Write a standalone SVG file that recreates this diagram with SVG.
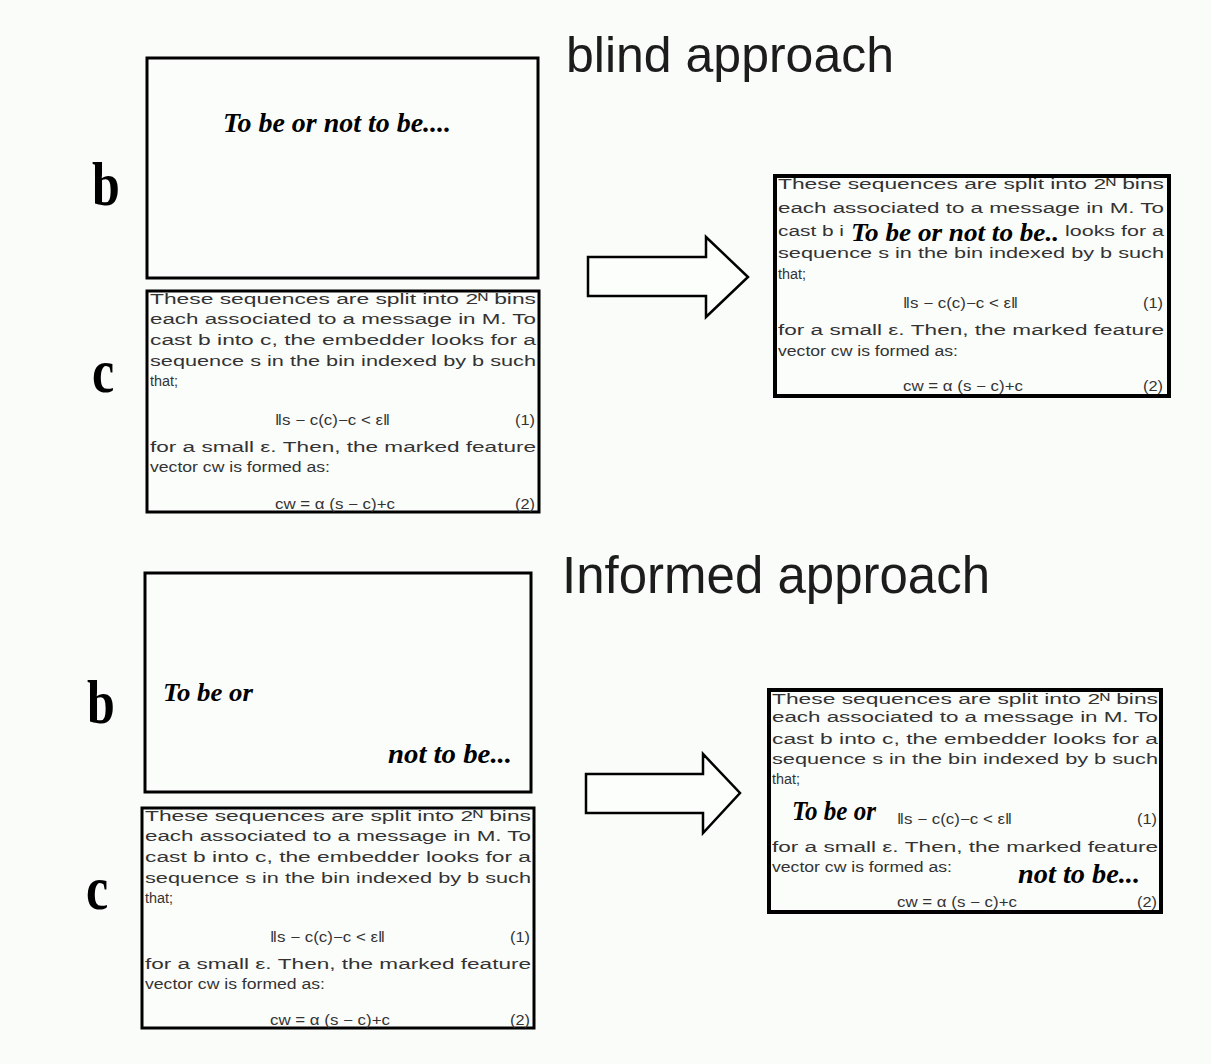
<svg xmlns="http://www.w3.org/2000/svg" width="1211" height="1064" viewBox="0 0 1211 1064">
<style>
.bg{fill:#f9fcf9}
.box{fill:#fbfdfb;stroke:#000;stroke-width:3}
.rbox{fill:#fbfdfb;stroke:#000;stroke-width:4}
.title{font-family:"Liberation Sans",Arial,sans-serif;font-size:50px;fill:#1c1c1c}
.lbl{font-family:"Liberation Serif","Times New Roman",serif;font-weight:bold;font-size:50px;fill:#000}
.doc{font-family:"Liberation Sans",Arial,sans-serif;font-size:14px;fill:#333}
.quote{font-family:"Liberation Serif","Times New Roman",serif;font-weight:bold;font-style:italic;fill:#000}
.arrow{fill:#fcfefc;stroke:#000;stroke-width:2.5;stroke-linejoin:miter}
</style>
<rect class="bg" x="0" y="0" width="1211" height="1064"/>

<g id="title-blind"><text class="title" x="566" y="72">blind approach</text></g>
<g id="title-informed"><text class="title" x="562" y="593" style="font-size:51px">Informed approach</text></g>

<g id="label-b-top"><text class="lbl" transform="translate(92,205) scale(1,1.22)">b</text></g>
<g id="label-c-top"><text class="lbl" transform="translate(92,392) scale(1,1.22)">c</text></g>
<g id="label-b-bottom"><text class="lbl" transform="translate(87,723) scale(1,1.22)">b</text></g>
<g id="label-c-bottom"><text class="lbl" transform="translate(86,909) scale(1,1.22)">c</text></g>

<!-- blind: message box -->
<g id="b-blind">
<rect class="box" x="147" y="58" width="391" height="220"/>
<text class="quote" x="223" y="132" font-size="28" textLength="228" lengthAdjust="spacingAndGlyphs">To be or not to be....</text>
</g>

<!-- blind: cover document -->
<g id="c-blind" transform="translate(147,291)">
<rect class="box" x="0" y="0" width="392" height="221"/>
<text class="doc" x="3" y="13" textLength="386" lengthAdjust="spacingAndGlyphs">These sequences are split into 2ᴺ bins</text>
<text class="doc" x="3" y="33" textLength="386" lengthAdjust="spacingAndGlyphs">each associated to a message in M.   To</text>
<text class="doc" x="3" y="54" textLength="386" lengthAdjust="spacingAndGlyphs">cast b into c, the embedder looks for a</text>
<text class="doc" x="3" y="75" textLength="386" lengthAdjust="spacingAndGlyphs">sequence s in the bin indexed by b such</text>
<text class="doc" x="3" y="95" textLength="28" lengthAdjust="spacingAndGlyphs">that;</text>
<text class="doc" x="128" y="134" textLength="115" lengthAdjust="spacingAndGlyphs">‖s − c(c)−c &lt; ε‖</text>
<text class="doc" x="368" y="134" textLength="20" lengthAdjust="spacingAndGlyphs">(1)</text>
<text class="doc" x="3" y="161" textLength="386" lengthAdjust="spacingAndGlyphs">for a small ε.   Then, the marked feature</text>
<text class="doc" x="3" y="181" textLength="180" lengthAdjust="spacingAndGlyphs">vector cw is formed as:</text>
<text class="doc" x="128" y="218" textLength="120" lengthAdjust="spacingAndGlyphs">cw = α (s − c)+c</text>
<text class="doc" x="368" y="218" textLength="20" lengthAdjust="spacingAndGlyphs">(2)</text>
</g>

<!-- blind: result -->
<g id="result-blind" transform="translate(775,176)">
<rect class="rbox" x="0" y="0" width="394" height="220"/>
<text class="doc" x="3" y="13" textLength="386" lengthAdjust="spacingAndGlyphs">These sequences are split into 2ᴺ bins</text>
<text class="doc" x="3" y="37" textLength="386" lengthAdjust="spacingAndGlyphs">each associated to a message in M.   To</text>
<text class="doc" x="3" y="60" textLength="66" lengthAdjust="spacingAndGlyphs">cast b i</text>
<text class="quote" x="76" y="65" font-size="26" textLength="208" lengthAdjust="spacingAndGlyphs">To be or not to be..</text>
<text class="doc" x="290" y="60" textLength="99" lengthAdjust="spacingAndGlyphs">looks for a</text>
<text class="doc" x="3" y="82" textLength="386" lengthAdjust="spacingAndGlyphs">sequence s in the bin indexed by b such</text>
<text class="doc" x="3" y="103" textLength="28" lengthAdjust="spacingAndGlyphs">that;</text>
<text class="doc" x="128" y="132" textLength="115" lengthAdjust="spacingAndGlyphs">‖s − c(c)−c &lt; ε‖</text>
<text class="doc" x="368" y="132" textLength="20" lengthAdjust="spacingAndGlyphs">(1)</text>
<text class="doc" x="3" y="159" textLength="386" lengthAdjust="spacingAndGlyphs">for a small ε.   Then, the marked feature</text>
<text class="doc" x="3" y="180" textLength="180" lengthAdjust="spacingAndGlyphs">vector cw is formed as:</text>
<text class="doc" x="128" y="215" textLength="120" lengthAdjust="spacingAndGlyphs">cw = α (s − c)+c</text>
<text class="doc" x="368" y="215" textLength="20" lengthAdjust="spacingAndGlyphs">(2)</text>
</g>

<!-- informed: message box -->
<g id="b-informed">
<rect class="box" x="145" y="573" width="386" height="219"/>
<text class="quote" x="163" y="701" font-size="26" textLength="90" lengthAdjust="spacingAndGlyphs">To be or</text>
<text class="quote" x="388" y="763" font-size="27" textLength="124" lengthAdjust="spacingAndGlyphs">not to be...</text>
</g>

<!-- informed: cover document -->
<g id="c-informed" transform="translate(142,808)">
<rect class="box" x="0" y="0" width="392" height="220"/>
<text class="doc" x="3" y="13" textLength="386" lengthAdjust="spacingAndGlyphs">These sequences are split into 2ᴺ bins</text>
<text class="doc" x="3" y="33" textLength="386" lengthAdjust="spacingAndGlyphs">each associated to a message in M.   To</text>
<text class="doc" x="3" y="54" textLength="386" lengthAdjust="spacingAndGlyphs">cast b into c, the embedder looks for a</text>
<text class="doc" x="3" y="75" textLength="386" lengthAdjust="spacingAndGlyphs">sequence s in the bin indexed by b such</text>
<text class="doc" x="3" y="95" textLength="28" lengthAdjust="spacingAndGlyphs">that;</text>
<text class="doc" x="128" y="134" textLength="115" lengthAdjust="spacingAndGlyphs">‖s − c(c)−c &lt; ε‖</text>
<text class="doc" x="368" y="134" textLength="20" lengthAdjust="spacingAndGlyphs">(1)</text>
<text class="doc" x="3" y="161" textLength="386" lengthAdjust="spacingAndGlyphs">for a small ε.   Then, the marked feature</text>
<text class="doc" x="3" y="181" textLength="180" lengthAdjust="spacingAndGlyphs">vector cw is formed as:</text>
<text class="doc" x="128" y="217" textLength="120" lengthAdjust="spacingAndGlyphs">cw = α (s − c)+c</text>
<text class="doc" x="368" y="217" textLength="20" lengthAdjust="spacingAndGlyphs">(2)</text>
</g>

<!-- informed: result -->
<g id="result-informed" transform="translate(769,690)">
<rect class="rbox" x="0" y="0" width="392" height="222"/>
<text class="doc" x="3" y="14" textLength="386" lengthAdjust="spacingAndGlyphs">These sequences are split into 2ᴺ bins</text>
<text class="doc" x="3" y="32" textLength="386" lengthAdjust="spacingAndGlyphs">each associated to a message in M.   To</text>
<text class="doc" x="3" y="54" textLength="386" lengthAdjust="spacingAndGlyphs">cast b into c, the embedder looks for a</text>
<text class="doc" x="3" y="74" textLength="386" lengthAdjust="spacingAndGlyphs">sequence s in the bin indexed by b such</text>
<text class="doc" x="3" y="94" textLength="28" lengthAdjust="spacingAndGlyphs">that;</text>
<text class="doc" x="128" y="134" textLength="115" lengthAdjust="spacingAndGlyphs">‖s − c(c)−c &lt; ε‖</text>
<text class="doc" x="368" y="134" textLength="20" lengthAdjust="spacingAndGlyphs">(1)</text>
<text class="doc" x="3" y="162" textLength="386" lengthAdjust="spacingAndGlyphs">for a small ε.   Then, the marked feature</text>
<text class="doc" x="3" y="182" textLength="180" lengthAdjust="spacingAndGlyphs">vector cw is formed as:</text>
<text class="doc" x="128" y="217" textLength="120" lengthAdjust="spacingAndGlyphs">cw = α (s − c)+c</text>
<text class="doc" x="368" y="217" textLength="20" lengthAdjust="spacingAndGlyphs">(2)</text>
<text class="quote" x="23" y="130" font-size="27" textLength="84" lengthAdjust="spacingAndGlyphs">To be or</text>
<text class="quote" x="249" y="193" font-size="28" textLength="122" lengthAdjust="spacingAndGlyphs">not to be...</text>
</g>

<g id="connectors">
<polygon class="arrow" points="588,257 706,257 706,237 748,277 706,317 706,296 588,296"/>
<polygon class="arrow" points="586,774 703,774 703,754 740,793 703,833 703,813 586,813"/>
</g>
</svg>
